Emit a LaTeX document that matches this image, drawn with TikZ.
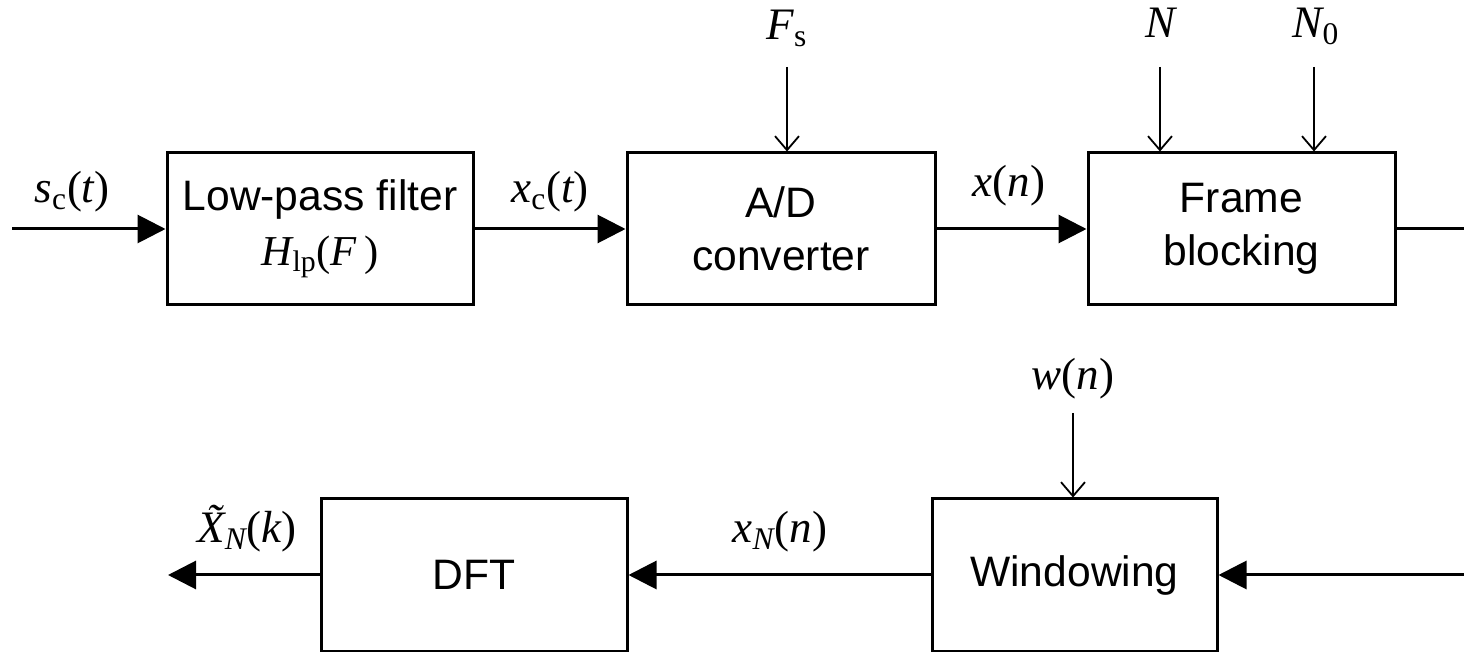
\documentclass[tikz,border=0pt]{standalone}
\usepackage{fontspec}
\setmainfont{Liberation Sans}
\newfontfamily\tms{Liberation Serif}
\usetikzlibrary{arrows.meta}
\begin{document}
\begin{tikzpicture}[x=0.5pt,y=-0.5pt,
  blk/.style={draw,line width=1.5pt,minimum height=76pt,align=center,inner sep=0pt,font=\fontsize{21.3}{27.5}\selectfont},
  sig/.style={line width=1.5pt,-{Triangle[length=14pt,width=14pt]}},
  prm/.style={line width=0.9pt,-{Straight Barb[length=7pt,width=12pt]}},
  lbl/.style={font=\tms\fontsize{22.5}{26}\selectfont,anchor=base,inner sep=0pt}]
\useasboundingbox (0,0) rectangle (1464,652);
\clip (0,0) rectangle (1464,652);
% blocks
\node[blk,minimum width=153pt] (lpf) at (320,229) {Low-pass filter\\{\tms\itshape H}{\tms\textsubscript{lp}}{\tms(\itshape F\,\upshape)}};
\node[blk,minimum width=154pt] (adc) at (781,229) {A/D\\[-1pt]converter};
\node[blk,minimum width=153.5pt] (fb) at (1241.5,229) {Frame\\[-1pt]blocking};
\node[blk,minimum width=142.5pt] (win) at (1074.5,575) {\raisebox{-1.5pt}{Windowing}};
\node[blk,minimum width=153pt] (dft) at (474,575) {\raisebox{-1.5pt}{DFT}};
% labels
\node[lbl] (lsc) at (72,203) {{\itshape s}\textsubscript{c}({\itshape t})};
\node[lbl] (lxc) at (550,203) {{\itshape x}\textsubscript{c}({\itshape t})};
\node[lbl] (lxn) at (1009,197) {{\itshape x}({\itshape n})};
\node[lbl] (lfs) at (787,40) {{\itshape F}\textsubscript{s}};
\node[lbl] (lN) at (1160,38) {{\itshape N}};
\node[lbl] (lN0) at (1316,38) {{\itshape N}\textsubscript{0}};
\node[lbl] (lw) at (1073,390) {{\itshape w}({\itshape n})};
\node[lbl] (lX) at (247,543) {{\itshape \~X}\textsubscript{\itshape N}({\itshape k})};
\node[lbl] (lxN) at (780,543) {{\itshape x}\textsubscript{\itshape N}({\itshape n})};
% signal connectors
\coordinate (in1) at (12,229);
\coordinate (out1) at (1464,229);
\coordinate (in2) at (1464,575);
\coordinate (out2) at (168,575);
\draw[sig] (in1) -- (lpf);
\draw[sig] (lpf) -- (adc);
\draw[sig] (adc) -- (fb);
\draw[line width=1.5pt] (fb) -- (out1);
\draw[sig] (in2) -- (win);
\draw[sig] (win) -- (dft);
\draw[sig] (dft) -- (out2);
% parameter arrows
\coordinate (pfs) at (787,67);
\coordinate (pN) at (1160,67);
\coordinate (pN0) at (1314,67);
\coordinate (pw) at (1073,413);
\draw[prm] (pfs) -- (pfs |- adc.north);
\draw[prm] (pN) -- (pN |- fb.north);
\draw[prm] (pN0) -- (pN0 |- fb.north);
\draw[prm] (pw) -- (pw |- win.north);
\end{tikzpicture}
\end{document}
